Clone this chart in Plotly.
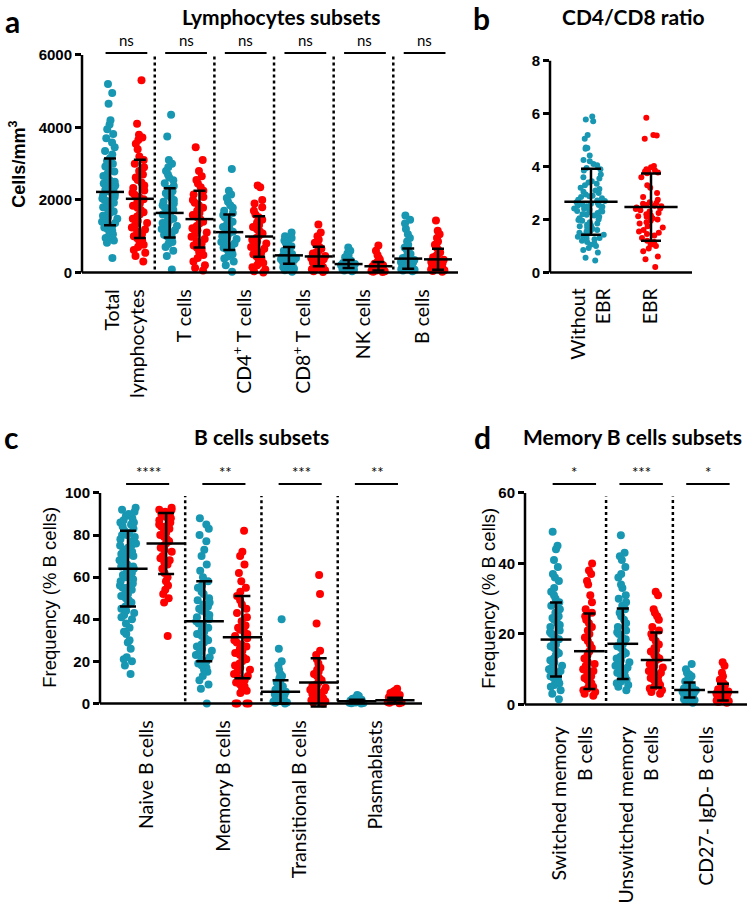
import plotly.graph_objects as go

W, H = 749, 904
TEAL = "#1897b2"
RED = "#ff0000"

# ------------ a) Lymphocytes subsets (cells/mm3), without EBR vs EBR ------------
lympho_labels = ["Total<br>lymphocytes", "T cells", "CD4<sup>+</sup> T cells",
                 "CD8<sup>+</sup> T cells", "NK cells", "B cells"]
lympho_sig = ["ns", "ns", "ns", "ns", "ns", "ns"]
total_noebr = [5200, 4950, 4650, 4200, 4080, 3950, 3820, 3700, 3580, 3450, 3350, 3250, 3150,
               3080, 3000, 2920, 2850, 2780, 2720, 2660, 2600, 2550, 2500, 2450, 2400, 2360,
               2320, 2280, 2240, 2200, 2160, 2120, 2080, 2040, 2000, 1960, 1920, 1880, 1840,
               1800, 1760, 1720, 1680, 1640, 1600, 1560, 1520, 1480, 1440, 1400, 1360, 1320,
               1280, 1240, 1200, 1150, 1100, 1050, 1000, 950, 880, 820, 400]
total_ebr = [5300, 4100, 3800, 3720, 3650, 3550, 3400, 3200, 3100, 3000, 2900, 2800, 2700,
             2620, 2550, 2480, 2400, 2330, 2260, 2200, 2140, 2080, 2020, 1960, 1900, 1840,
             1780, 1720, 1660, 1600, 1540, 1480, 1420, 1360, 1300, 1240, 1180, 1120, 1060,
             1000, 940, 880, 820, 760, 700, 620, 540, 450, 300]
t_noebr = [4350, 3750, 3100, 3000, 2900, 2800, 2700, 2620, 2540, 2460, 2380, 2300, 2240, 2180,
           2120, 2060, 2000, 1950, 1900, 1850, 1800, 1760, 1720, 1680, 1640, 1600, 1560, 1520,
           1480, 1440, 1400, 1360, 1320, 1280, 1240, 1200, 1160, 1120, 1080, 1040, 1000, 960,
           900, 840, 780, 700, 600, 450, 80]
t_ebr = [3450, 3100, 2800, 2650, 2550, 2450, 2350, 2250, 2150, 2080, 2000, 1920, 1850, 1780,
         1700, 1640, 1580, 1520, 1460, 1400, 1340, 1280, 1220, 1160, 1100, 1040, 980, 920, 860,
         800, 740, 680, 620, 560, 480, 400, 300, 200, 120, 50]
cd4_noebr = [2850, 2250, 2150, 2050, 1950, 1850, 1780, 1700, 1640, 1580, 1520, 1460, 1400, 1350,
             1300, 1250, 1200, 1160, 1120, 1080, 1040, 1000, 960, 920, 880, 840, 800, 760, 720,
             680, 640, 600, 550, 500, 440, 380, 300, 200, 20]
cd4_ebr = [2400, 2350, 2000, 1900, 1800, 1700, 1600, 1520, 1450, 1380, 1310, 1250, 1190, 1130,
           1070, 1010, 950, 900, 850, 800, 750, 700, 650, 600, 550, 500, 440, 380, 320, 260,
           200, 140, 80, 30, 0]
cd8_noebr = [1100, 1000, 950, 880, 820, 760, 720, 680, 640, 600, 570, 540, 510, 480, 460, 440,
             420, 400, 380, 360, 340, 320, 300, 280, 260, 240, 220, 200, 170, 140, 100, 60, 20]
cd8_ebr = [1320, 1100, 1000, 900, 820, 760, 700, 650, 600, 560, 520, 480, 450, 420, 390, 360,
           330, 300, 270, 240, 210, 180, 150, 120, 90, 60, 30, 10]
nk_noebr = [690, 600, 520, 460, 420, 380, 350, 320, 300, 280, 260, 245, 230, 215, 200, 190, 180,
            170, 160, 150, 140, 130, 115, 100, 85, 70, 50, 30]
nk_ebr = [740, 600, 480, 400, 350, 300, 270, 240, 215, 195, 175, 160, 145, 130, 115, 100, 90, 80,
          70, 60, 50, 40, 30, 20, 10]
bcell_noebr = [1570, 1450, 1350, 1200, 1050, 950, 850, 760, 690, 620, 560, 510, 470, 430, 400,
               370, 340, 310, 290, 270, 250, 230, 210, 190, 170, 150, 130, 110, 90, 70, 50, 30]
bcell_ebr = [1430, 1150, 1050, 950, 850, 760, 680, 610, 550, 500, 460, 420, 380, 350, 320, 290,
             260, 240, 220, 200, 180, 160, 140, 120, 100, 80, 60, 40, 20]
lympho_mean = [2220, 2030, 1640, 1470, 1110, 990, 470, 440, 230, 170, 380, 360]
lympho_sd = [920, 1080, 680, 780, 490, 560, 230, 270, 110, 120, 280, 290]

# ------------ b) CD4/CD8 ratio ------------
ratio_labels = ["Without<br>EBR", "EBR"]
ratio_noebr = [5.9, 5.78, 5.72, 5.2, 5.05, 4.72, 4.7, 4.68, 4.42, 4.25, 4.2, 4.1, 4.05, 3.95,
               3.9, 3.85, 3.7, 3.6, 3.55, 3.45, 3.4, 3.35, 3.3, 3.2, 3.15, 3.1, 3.05, 3.0, 2.95,
               2.9, 2.88, 2.85, 2.8, 2.75, 2.72, 2.7, 2.65, 2.62, 2.6, 2.58, 2.55, 2.52, 2.5,
               2.48, 2.45, 2.42, 2.4, 2.38, 2.35, 2.32, 2.3, 2.28, 2.25, 2.2, 2.18, 2.15, 2.1,
               2.05, 2.0, 1.98, 1.95, 1.9, 1.85, 1.8, 1.78, 1.75, 1.7, 1.65, 1.6, 1.58, 1.55,
               1.5, 1.45, 1.42, 1.4, 1.35, 1.3, 1.28, 1.25, 1.2, 1.15, 1.1, 1.05, 1.0, 0.92,
               0.85, 0.75, 0.55, 0.45]
ratio_ebr = [5.85, 5.2, 5.18, 5.05, 4.02, 3.98, 3.9, 3.85, 3.82, 3.8, 3.78, 3.75, 3.6, 3.3, 3.2,
             3.0, 2.85, 2.75, 2.65, 2.62, 2.6, 2.55, 2.52, 2.5, 2.45, 2.42, 2.4, 2.35, 2.3, 2.25,
             2.2, 2.15, 2.12, 2.1, 2.05, 2.0, 1.95, 1.9, 1.85, 1.75, 1.7, 1.6, 1.55, 1.5, 1.45,
             1.4, 1.3, 1.2, 1.15, 1.05, 1.0, 0.9, 0.8, 0.6, 0.5, 0.2]
ratio_mean = [2.67, 2.47]
ratio_sd = [1.25, 1.27]

# ------------ c) B cells subsets (% B cells) ------------
bsub_labels = ["Naive B cells", "Memory B cells", "Transitional B cells", "Plasmablasts"]
bsub_sig = ["****", "**", "***", "**"]
naive_noebr = [93, 92, 91, 90, 89, 88, 87, 86, 86, 85, 84, 83, 82, 81, 80, 80, 79, 78, 77, 76,
               75, 75, 74, 73, 72, 71, 70, 70, 69, 68, 67, 66, 65, 65, 64, 63, 62, 61, 60, 60,
               59, 58, 57, 56, 55, 55, 54, 53, 52, 51, 50, 49, 48, 47, 46, 45, 44, 43, 42, 41,
               40, 38, 36, 34, 33, 30, 29, 26, 22, 21, 20, 18, 14]
naive_ebr = [93, 92, 92, 91, 90, 90, 89, 88, 88, 87, 86, 85, 84, 84, 83, 82, 81, 80, 79, 78, 77,
             76, 75, 74, 73, 72, 70, 69, 68, 67, 66, 64, 62, 60, 58, 56, 54, 52, 50, 48, 32]
memory_noebr = [88, 85, 83, 80, 77, 73, 70, 66, 63, 60, 58, 56, 55, 53, 52, 50, 49, 48, 47, 46,
                45, 44, 43, 42, 41, 40, 39, 38, 37, 36, 35, 34, 33, 32, 31, 30, 29, 28, 27, 26,
                25, 24, 23, 22, 21, 20, 19, 18, 17, 16, 15, 13, 11, 9, 7, 0]
memory_ebr = [82, 72, 70, 66, 62, 58, 55, 53, 51, 49, 47, 45, 43, 41, 39, 37, 36, 35, 34, 33, 32,
              31, 30, 29, 28, 27, 26, 25, 24, 23, 22, 21, 20, 19, 18, 17, 16, 15, 14, 13, 12, 11,
              10, 9, 8, 7, 6, 5, 0, 0, 0, 0]
trans_noebr = [40, 26, 20, 18, 16, 14, 13, 12, 11, 10, 9, 8.5, 8, 7.5, 7, 6.5, 6, 5.5, 5, 4.5,
               4, 3.5, 3, 2.5, 2, 1.8, 1.5, 1.2, 1, 0.8, 0.5, 0.3, 0]
trans_ebr = [61, 52, 38, 25, 23, 21, 19, 17, 16, 15, 14, 13, 12, 11, 10, 9, 8.5, 8, 7.5, 7, 6.5,
             6, 5.5, 5, 4.5, 4, 3.5, 3, 2.5, 2, 1.5, 1, 0.5, 0]
plasma_noebr = [4, 3.5, 3, 2.6, 2.2, 2, 1.8, 1.6, 1.4, 1.2, 1.1, 1, 0.9, 0.8, 0.7, 0.6, 0.5,
                0.4, 0.3, 0.2, 0.1, 0]
plasma_ebr = [7, 6, 5.5, 5, 4.5, 4, 3.5, 3, 2.7, 2.4, 2.1, 1.9, 1.7, 1.5, 1.3, 1.1, 0.9, 0.7,
              0.5, 0.3, 0.1]
bsub_mean = [64, 76, 39, 31.5, 5.5, 10, 1.0, 1.5]
bsub_sd = [18, 14.5, 19, 19.5, 5.5, 11.5, 0.8, 1.2]

# ------------ d) Memory B cells subsets (% B cells) ------------
mem_labels = ["Switched memory<br>B cells", "Unswitched memory<br>B cells", "CD27- IgD- B cells"]
mem_sig = ["*", "***", "*"]
switched_noebr = [49, 45, 44, 41, 39, 37, 36, 35, 33, 32, 31, 30, 29, 28, 27, 26, 25, 24.5, 24,
                  23, 22.5, 22, 21, 20.5, 20, 19, 18.5, 18, 17, 16.5, 16, 15, 14.5, 14, 13, 12.5,
                  12, 11, 10.5, 10, 9.5, 9, 8.5, 8, 7.5, 7, 6.5, 6, 5.5, 5, 4, 3, 1.5]
switched_ebr = [40, 38, 37, 35, 34, 31, 29, 27, 26, 25, 24, 23, 22, 21, 20, 19, 18, 17, 16, 15,
                14, 13, 12, 11.5, 11, 10, 9.5, 9, 8, 7.5, 7, 6, 5.5, 5, 4.5, 4, 3.5, 3, 2.5]
unswitched_noebr = [48, 43, 42, 41, 39, 37, 36, 34, 33, 31, 30, 29, 28, 27, 26, 25, 24, 23, 22,
                    21, 20.5, 20, 19, 18.5, 18, 17, 16.5, 16, 15, 14.5, 14, 13.5, 13, 12.5, 12,
                    11.5, 11, 10.5, 10, 9.5, 9, 8.5, 8, 7.5, 7, 6.5, 6, 5.5, 5, 4]
unswitched_ebr = [32, 31, 27, 26, 25, 24, 22, 21, 20, 19, 18, 17, 16, 15.5, 15, 14, 13.5, 13,
                  12.5, 12, 11.5, 11, 10.5, 10, 9.5, 9, 8.5, 8, 7.5, 7, 6.5, 6, 5.5, 5, 4.5, 4,
                  3.5, 3]
dn_noebr = [11.5, 10, 9, 8.5, 8, 7.5, 7, 6.5, 6, 5.5, 5.2, 5, 4.8, 4.5, 4.2, 4, 3.8, 3.6, 3.4,
            3.2, 3, 2.8, 2.6, 2.4, 2.2, 2, 1.8, 1.5, 1.2, 1, 0.5]
dn_ebr = [12, 11, 9, 8, 7, 6.5, 6, 5.5, 5, 4.6, 4.3, 4, 3.7, 3.4, 3.1, 2.9, 2.7, 2.5, 2.3, 2.1,
          1.9, 1.7, 1.5, 1.3, 1.1, 0.9, 0.7, 0.5]
mem_mean = [18.4, 15.1, 17.2, 12.6, 4.1, 3.5]
mem_sd = [10.5, 10.7, 10.0, 7.8, 2.1, 2.4]


# ------------ panel geometry (pixels of the 749x904 page) ------------
panels = [
    dict(n="", series=[total_noebr, total_ebr, t_noebr, t_ebr, cd4_noebr, cd4_ebr,
                       cd8_noebr, cd8_ebr, nk_noebr, nk_ebr, bcell_noebr, bcell_ebr],
         mean=lympho_mean, sd=lympho_sd, labels=lympho_labels, sig=lympho_sig,
         x_px=(82, 458), x_range=(-0.94, 11.67), zero_px=272, top_val=6000, top_px=54,
         dom_px=(40, 279), yticks=[0, 2000, 4000, 6000], msize=8, bw=0.55, mlen=20, cap=6,
         sig_px=52, sigtxt_px=39, span=(-0.15, 1.25), sep=(80, 6000), standoff=5),
    dict(n="2", series=[ratio_noebr, ratio_ebr], mean=ratio_mean, sd=ratio_sd,
         labels=ratio_labels, sig=[], x_px=(550, 692), x_range=(-0.683, 1.683),
         zero_px=272, top_val=8, top_px=60, dom_px=(50, 279), yticks=[0, 2, 4, 6, 8],
         msize=6, bw=0.58, mlen=38, cap=10, standoff=4),
    dict(n="3", series=[naive_noebr, naive_ebr, memory_noebr, memory_ebr, trans_noebr,
                        trans_ebr, plasma_noebr, plasma_ebr],
         mean=bsub_mean, sd=bsub_sd, labels=bsub_labels, sig=bsub_sig,
         x_px=(100, 422), x_range=(-0.734, 7.71), zero_px=704, top_val=100, top_px=493,
         dom_px=(485, 711), yticks=[0, 20, 40, 60, 80, 100], msize=8, bw=0.45, mlen=28, cap=8,
         sig_px=484, sigtxt_px=472, span=(-0.05, 1.08), sep=(1, 98.5), standoff=5),
    dict(n="4", series=[switched_noebr, switched_ebr, unswitched_noebr, unswitched_ebr,
                        dn_noebr, dn_ebr],
         mean=mem_mean, sd=mem_sd, labels=mem_labels, sig=mem_sig,
         x_px=(525, 747), x_range=(-0.928, 5.72), zero_px=705, top_val=60, top_px=493,
         dom_px=(485, 712), yticks=[0, 20, 40, 60], msize=8, bw=0.45, mlen=22, cap=6,
         sig_px=484, sigtxt_px=472, span=(-0.1, 1.2), sep=(1, 59), standoff=10),
]

fig = go.Figure()
shapes, annotations = [], []
tick_font = dict(family="Liberation Sans", size=15, color="black", weight="bold")
cat_font = dict(family="Lato", size=19.5, color="black")

for p in panels:
    xid, yid = "x" + p["n"], "y" + p["n"]
    ppu = (p["zero_px"] - p["top_px"]) / p["top_val"]
    y_lo = -(p["dom_px"][1] - p["zero_px"]) / ppu
    y_hi = (p["zero_px"] - p["dom_px"][0]) / ppu
    n_ser = len(p["series"])

    # dots (jittered strip of every value)
    for i, vals in enumerate(p["series"]):
        col = TEAL if i % 2 == 0 else RED
        fig.add_trace(go.Box(x=[i] * len(vals), y=vals, xaxis=xid, yaxis=yid,
                             boxpoints="all", jitter=1, pointpos=0, width=p["bw"],
                             fillcolor="rgba(0,0,0,0)", line=dict(width=0, color=col),
                             marker=dict(color=col, size=p["msize"], line=dict(width=0)),
                             hoveron="points", showlegend=False))

    # mean +/- SD
    fig.add_trace(go.Scatter(x=list(range(n_ser)), y=p["mean"], xaxis=xid, yaxis=yid,
                             mode="markers", cliponaxis=False, showlegend=False,
                             marker=dict(symbol="line-ew", size=p["mlen"], color="black",
                                         line=dict(width=2.5, color="black")),
                             error_y=dict(type="data", array=p["sd"], color="black",
                                          thickness=2.5, width=p["cap"])))

    # axis lines (only from 0 to top value)
    shapes.append(dict(type="line", xref=xid + " domain", x0=0, x1=0, yref=yid,
                       y0=0, y1=p["top_val"], line=dict(color="black", width=2.5)))
    shapes.append(dict(type="line", xref=xid + " domain", x0=0, x1=1, yref=yid,
                       y0=0, y1=0, line=dict(color="black", width=2.5)))

    if p["sig"]:
        tickvals = [2 * k + 0.5 for k in range(len(p["labels"]))]
        for k in range(len(p["labels"]) - 1):
            shapes.append(dict(type="line", xref=xid, x0=2 * k + 1.5, x1=2 * k + 1.5,
                               yref=yid, y0=p["sep"][0], y1=p["sep"][1],
                               line=dict(color="black", width=2.5, dash="dot")))
        for k, s in enumerate(p["sig"]):
            shapes.append(dict(type="line", xref=xid, x0=2 * k + p["span"][0],
                               x1=2 * k + p["span"][1], yref="paper",
                               y0=1 - p["sig_px"] / H, y1=1 - p["sig_px"] / H,
                               line=dict(color="black", width=2)))
            annotations.append(dict(text=s, xref=xid, x=2 * k + 0.55, yref="paper",
                                    y=1 - p["sigtxt_px"] / H, showarrow=False,
                                    yanchor="middle",
                                    font=dict(family="Lato", size=15, color="black")))
    else:
        tickvals = list(range(n_ser))

    fig.update_layout({
        "xaxis" + p["n"]: dict(domain=[p["x_px"][0] / W, p["x_px"][1] / W],
                               range=list(p["x_range"]), anchor=yid,
                               showgrid=False, zeroline=False, showline=False, ticks="",
                               tickmode="array", tickvals=tickvals, ticktext=p["labels"],
                               tickangle=-90, tickfont=cat_font,
                               ticklabelstandoff=p["standoff"]),
        "yaxis" + p["n"]: dict(domain=[1 - p["dom_px"][1] / H, 1 - p["dom_px"][0] / H],
                               range=[y_lo, y_hi], anchor=xid,
                               showgrid=False, zeroline=False, showline=False,
                               ticks="outside", ticklen=6, tickwidth=2.5, tickcolor="black",
                               tickmode="array", tickvals=p["yticks"], tickfont=tick_font),
    })

# ------------ titles, panel letters, y titles ------------
def note(text, x_px, y_px, size, bold=False, family="Lato", angle=0):
    annotations.append(dict(text=text, xref="paper", yref="paper", x=x_px / W,
                            y=1 - y_px / H, showarrow=False, textangle=angle,
                            xanchor="center", yanchor="middle",
                            font=dict(family=family, size=size, color="black",
                                      weight="bold" if bold else "normal")))

note("a", 12, 20, 30, bold=True)
note("b", 482, 17, 30, bold=True)
note("c", 11, 437, 30, bold=True)
note("d", 483, 437, 30, bold=True)
note("Lymphocytes subsets", 281, 16, 21, bold=True)
note("CD4/CD8 ratio", 633, 16, 21, bold=True)
note("B cells subsets", 261, 436, 21, bold=True)
note("Memory B cells subsets", 632, 436, 21, bold=True)
note("Cells/mm<sup>3</sup>", 18, 164, 18, bold=True, family="Liberation Sans", angle=-90)
note("Frequency (% B cells)", 50, 598, 18.5, family="Liberation Sans", angle=-90)
note("Frequency (% B cells)", 489, 598, 18.5, family="Liberation Sans", angle=-90)

fig.update_layout(width=W, height=H, margin=dict(l=0, r=0, t=0, b=0),
                  paper_bgcolor="white", plot_bgcolor="white", showlegend=False,
                  boxmode="overlay", shapes=shapes, annotations=annotations)

fig.write_html("out.html", config={"displayModeBar": False},
               post_script="document.body.style.margin='0';")
